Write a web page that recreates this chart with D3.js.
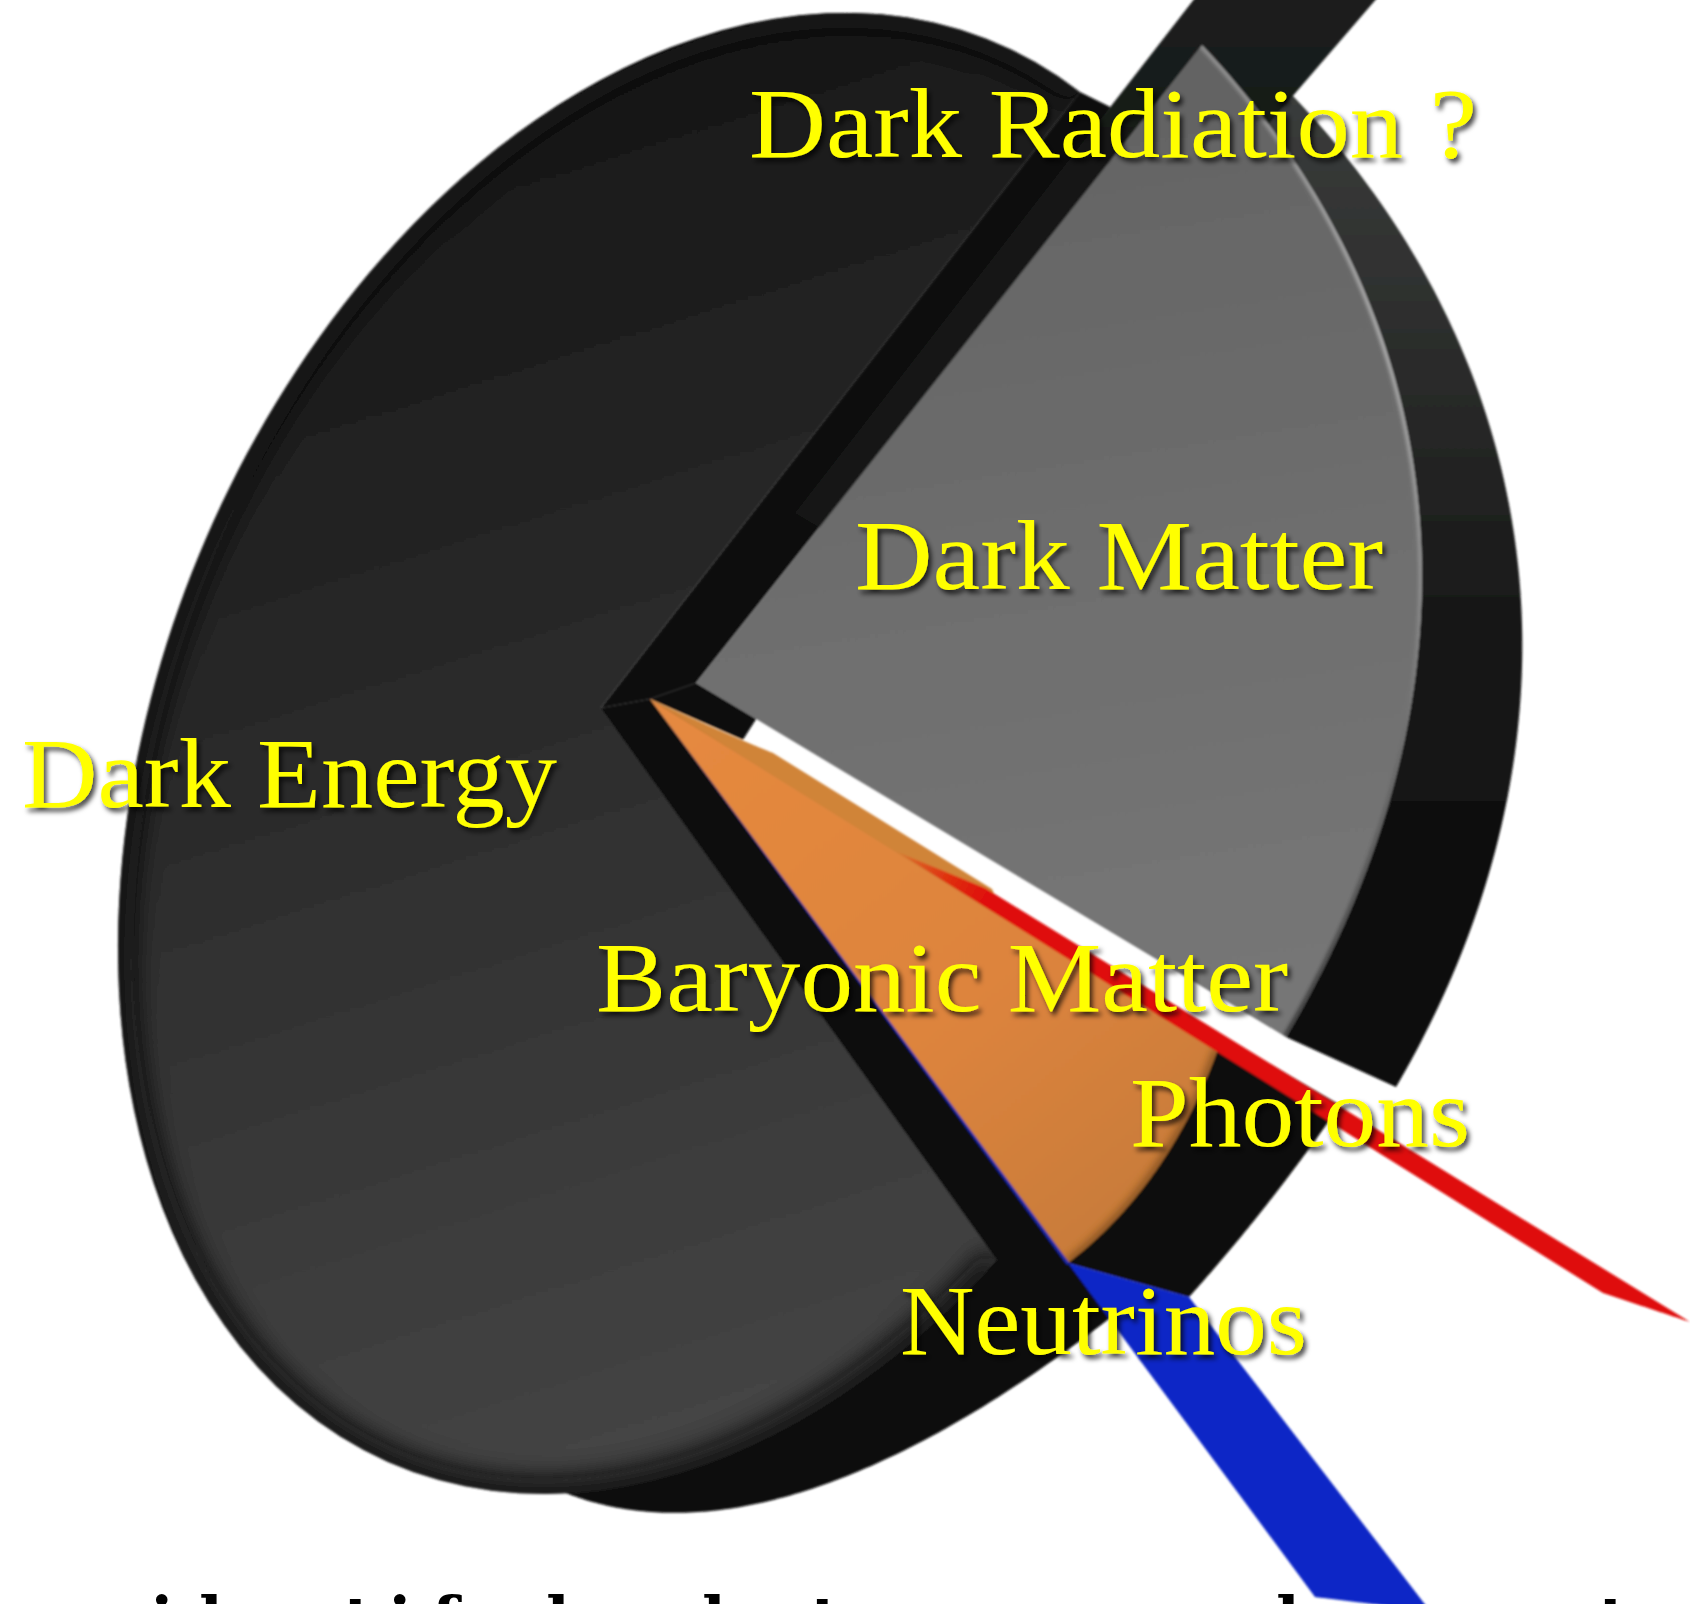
<!DOCTYPE html>
<html><head><meta charset="utf-8">
<script src="https://cdn.jsdelivr.net/npm/d3@7"></script>
<style>html,body{margin:0;padding:0;background:#fff;overflow:hidden}svg{display:block}</style>
</head><body><svg id="chart" width="1690" height="1604"></svg>
<script>
// Shares of the cosmic energy budget, clockwise from the top of the pie.
const sliceNames = ["Dark Matter", "Baryonic Matter", "Photons", "Neutrinos", "Dark Energy", "Dark Radiation ?"];
const sliceShares = [26.8, 4.9, 0.2, 0.3, 67.6, 0.2];

const captionGlyphs = ["i", "d", "t", "i", "f", "d", "d", "t", "d", "t"];
const captionStems = [162, 215, 360, 400, 445, 562, 718, 827, 1292, 1615];

const svg = d3.select("#chart");
const defs = svg.append("defs");
const slices = d3.pie().sort(null).value(d => d)(sliceShares);
const slice = name => slices[sliceNames.indexOf(name)];

function solveLinear(m) {
  const n = m.length;
  for (let c = 0; c < n; c++) {
    let p = c;
    for (let i = c + 1; i < n; i++) if (Math.abs(m[i][c]) > Math.abs(m[p][c])) p = i;
    [m[c], m[p]] = [m[p], m[c]];
    for (let i = 0; i < n; i++) {
      if (i === c) continue;
      const f = m[i][c] / m[c][c];
      for (let j = c; j <= n; j++) m[i][j] -= f * m[c][j];
    }
  }
  return m.map((row, i) => row[n] / row[i]);
}

// Perspective map from pie polar coordinates to the page, solved from 3 or 4 anchors.
function plane(anchors) {
  const src = anchors.map(([r, a]) => [r * Math.sin(a), -r * Math.cos(a)]);
  const dst = anchors.map(a => [a[2], a[3]]);
  if (src.length === 3) {
    src.push([src[1][0] + src[2][0] - src[0][0], src[1][1] + src[2][1] - src[0][1]]);
    dst.push([dst[1][0] + dst[2][0] - dst[0][0], dst[1][1] + dst[2][1] - dst[0][1]]);
  }
  const m = [];
  src.forEach(([x, y], i) => {
    const [X, Y] = dst[i];
    m.push([x, y, 1, 0, 0, 0, -x * X, -y * X, X]);
    m.push([0, 0, 0, x, y, 1, -x * Y, -y * Y, Y]);
  });
  const h = solveLinear(m);
  return (r, a) => {
    const x = r * Math.sin(a), y = -r * Math.cos(a);
    const w = h[6] * x + h[7] * y + 1;
    return [(h[0] * x + h[1] * y + h[2]) / w, (h[3] * x + h[4] * y + h[5]) / w];
  };
}

// Off-centre wedge: the rim follows the ellipse through five page points and the
// pie angle runs linearly along that rim, while spokes meet at the given apex.
function ellipseFan(apex, a0, a1, start, end, vias) {
  const K = 1000, X0 = 600, Y0 = 760;
  const nx = x => (x - X0) / K, ny = y => (y - Y0) / K;
  const pts = [start, end, ...vias].map(([x, y]) => [nx(x), ny(y)]);
  const [A, B, C, D, E] = solveLinear(pts.map(([x, y]) => [x * x, x * y, y * y, x, y, 1]));
  const [cx, cy] = solveLinear([[2 * A, B, -D], [B, 2 * C, -E]]);
  const F = A * cx * cx + B * cx * cy + C * cy * cy + D * cx + E * cy - 1;
  const phi = ([x, y]) => Math.atan2(y - cy, x - cx);
  const p0 = phi(pts[0]);
  let p1 = phi(pts[1]);
  while (p1 < p0) p1 += 2 * Math.PI;
  return (r, a) => {
    const t = p0 + (a - a0) / (a1 - a0) * (p1 - p0);
    const u = Math.cos(t), v = Math.sin(t);
    const rho = Math.sqrt(-F / (A * u * u + B * u * v + C * v * v));
    const rim = [(cx + rho * u) * K + X0, (cy + rho * v) * K + Y0];
    return [apex[0] + r * (rim[0] - apex[0]), apex[1] + r * (rim[1] - apex[1])];
  };
}

const trace = d3.line();
const arcPoints = (pl, a0, a1, r = 1) => d3.range(121).map(i => pl(r, a0 + (a1 - a0) * i / 120));
const closed = pts => trace(pts) + "Z";
const lerp = (p, q, t) => [p[0] + (q[0] - p[0]) * t, p[1] + (q[1] - p[1]) * t];

function gradient(id, x1, y1, x2, y2, stops) {
  const g = defs.append("linearGradient").attr("id", id).attr("gradientUnits", "userSpaceOnUse")
    .attr("x1", x1).attr("y1", y1).attr("x2", x2).attr("y2", y2);
  stops.forEach(([o, c]) => g.append("stop").attr("offset", o).attr("stop-color", c));
  return `url(#${id})`;
}
function blur(id, sd) {
  defs.append("filter").attr("id", id).attr("x", "-20%").attr("y", "-20%").attr("width", "140%").attr("height", "140%")
    .append("feGaussianBlur").attr("stdDeviation", sd);
  return `url(#${id})`;
}
const soft = blur("soft", 0.8);
const rimBlur = blur("rimBlur", 13);
const rimThin = blur("rimThin", 1.6);
const shadow = defs.append("filter").attr("id", "labelShadow").attr("x", "-10%").attr("y", "-30%").attr("width", "120%").attr("height", "170%");
shadow.append("feDropShadow").attr("dx", 3).attr("dy", 4).attr("stdDeviation", 2.6).attr("flood-color", "#000").attr("flood-opacity", 0.72);

const DM = slice("Dark Matter"), BM = slice("Baryonic Matter"), PH = slice("Photons"),
      NU = slice("Neutrinos"), DE = slice("Dark Energy"), DR = slice("Dark Radiation ?");
const mid = s => (s.startAngle + s.endAngle) / 2;

// Calibration of each level of the extruded pie.
const faceDE = ellipseFan([601, 708], DE.startAngle, DE.endAngle, [997, 1260], [1080, 92], [[857, 13], [118, 938], [400, 1467]]);
const faceDM = plane([[0, 0, 696, 683], [1, DM.startAngle, 1202, 45], [1, DM.endAngle, 1286, 1037], [1, mid(DM), 1420, 525]]);
const rearDM = plane([[0, 0, 790, 740], [1, DM.startAngle, 1262, 65], [1, DM.endAngle, 1396, 1087], [1, mid(DM), 1518, 565]]);
const faceBM = plane([[0, 0, 650, 699], [1, BM.startAngle, 1218, 1049], [1, BM.endAngle, 1068, 1263], [1, mid(BM), 1155, 1172]]);
const rearBM = plane([[0, 0, 650, 699], [1, BM.startAngle, 1340, 1105], [1, mid(BM), 1268, 1203], [1, NU.startAngle, 1189, 1297]]);
const rearDE = plane([[0, 0, 650, 699], [1, DE.startAngle, 1110, 1318], [1, DE.startAngle + 0.4, 808, 1490], [1, DE.startAngle + 0.8, 619, 1508]]);
const INNER = 0.3;
const quadPlane = (s, q) => plane([
  [INNER, s.startAngle, ...q[0]], [INNER, s.endAngle, ...q[1]],
  [1, s.endAngle, ...q[2]], [1, s.startAngle, ...q[3]]]);
const ribbonPH = quadPlane(PH, [[985, 888], [897, 852], [1603, 1293], [1690, 1322]]);
const ribbonNU = quadPlane(NU, [[1189, 1297], [1068, 1263], [1315, 1597], [1430, 1611]]);
const ribbonDR = quadPlane(DR, [[795, 513], [887, 568], [1427, -60], [1240, -60]]);
const foldBM = quadPlane(BM, [[773, 753], [650, 699], [1000, 917], [992, 889]]);
const hairNU = plane([[0, 0, 650, 699], [1, NU.startAngle, 1069.5, 1263], [1, NU.endAngle, 1067, 1265]]);

const sector = (pl, s, a0 = s.startAngle, a1 = s.endAngle) => [pl(0, a0), ...arcPoints(pl, a0, a1)];
const ring = (pl, s) => [...arcPoints(pl, s.startAngle, s.endAngle, INNER), ...arcPoints(pl, s.endAngle, s.startAngle, 1)];

const marks = svg.append("g").attr("filter", soft);
const draw = (pts, fill) => marks.append("path").attr("d", closed(pts)).attr("fill", fill);
const apexDE = faceDE(0, 0), apexDM = faceDM(0, 0), apexBM = faceBM(0, 0);

// Black rear plates under the baryons and the lower rim of dark energy.
draw([...sector(rearBM, BM, BM.startAngle, NU.startAngle), ribbonNU(INNER, NU.endAngle)], "#0b0a08");
draw([apexDE, apexBM, ...arcPoints(rearDE, DE.startAngle, DE.startAngle + 1.15)], "#0a0a0a");

// Wall exposed by the raised dark-energy wedge; it stops on the radiation ribbon's left edge.
const wallTop = lerp(ribbonDR(INNER, DR.startAngle), ribbonDR(1, DR.startAngle), 0.7086);
draw([apexDE, faceDE(1, DE.endAngle), wallTop, faceDM(0.3, DM.startAngle), apexDM, apexBM], "#0a0a0a");

// Outer band of the dark-matter slice, from its face back to the rear arc.
draw([...arcPoints(faceDM, DM.startAngle, DM.endAngle), ...arcPoints(rearDM, DM.endAngle, DM.startAngle)],
  gradient("bandDM", 0, 100, 0, 1090, [[0, "#3a3c3b"], [0.28, "#2a2b2a"], [0.55, "#161616"], [1, "#0a0a0a"]]));

// Dark radiation, a long ribbon leaving the top of the page.
draw(ring(ribbonDR, DR), gradient("ribbonDRfill", 0, 0, 0, 520, [[0, "#1b1d1c"], [0.3, "#171918"], [1, "#131514"]]));

// Dark-matter face with its pale rim.
const dmFace = sector(faceDM, DM);
draw(dmFace, gradient("faceDMfill", 900, 60, 1050, 1000, [[0, "#626262"], [0.55, "#6e6e6e"], [1, "#767676"]]));
defs.append("clipPath").attr("id", "clipDM").append("path").attr("d", closed(dmFace));
marks.append("g").attr("clip-path", "url(#clipDM)").append("path")
  .attr("d", trace(arcPoints(faceDM, DM.startAngle, DM.endAngle))).attr("fill", "none").attr("stroke-width", 7)
  .attr("filter", rimThin)
  .attr("stroke", gradient("rimDM", 0, 45, 0, 1037, [[0, "#8e8e8e"], [0.3, "#a8a8a8"], [0.55, "#8a8a8a"], [0.82, "#585858"], [1, "#3c3c3c"]]));

// Short black step at the inner end of the gap below dark matter.
draw([apexDM, lerp(apexDM, faceDM(1, DM.endAngle), 0.102), lerp(apexBM, foldBM(INNER, BM.startAngle), 0.756), apexBM], "#0a0a0a");

// Baryonic matter.
const bmFace = sector(faceBM, BM);
draw(bmFace, gradient("faceBMfill", 700, 720, 1100, 1230, [[0, "#e5893f"], [0.6, "#dd843d"], [1, "#c97c3a"]]));
defs.append("clipPath").attr("id", "clipBM").append("path").attr("d", closed(bmFace));
marks.append("g").attr("clip-path", "url(#clipBM)").append("path")
  .attr("d", trace(arcPoints(faceBM, BM.startAngle, BM.endAngle))).attr("fill", "none").attr("stroke", "#7a4c1e")
  .attr("stroke-width", 8).attr("filter", blur("rimBM", 4));
draw(ring(foldBM, BM), "#d08439");

// Neutrinos: hairline face plus the long ribbon.
draw(sector(hairNU, NU), "#1b2aa8");
draw(ring(ribbonNU, NU), "#0b25c6");

// Photons, fading in where the ribbon emerges from the baryon slice.
draw(ring(ribbonPH, PH), gradient("ribbonPHfill", 897, 852, 985, 905, [[0, "#d9772f"], [0.55, "#e0300f"], [1, "#df0d0a"]]));

// Dark-energy face with a darkened rim.
const deFace = sector(faceDE, DE);
draw(deFace, gradient("faceDEfill", 560, 60, 960, 1330, [[0, "#161616"], [0.35, "#262626"], [0.7, "#373737"], [1, "#444444"]]));
defs.append("clipPath").attr("id", "clipDE").append("path").attr("d", closed(deFace));
marks.append("g").attr("clip-path", "url(#clipDE)").append("path")
  .attr("d", trace(arcPoints(faceDE, DE.startAngle, DE.endAngle))).attr("fill", "none").attr("stroke", "#0a0a0a")
  .attr("stroke-width", 30).attr("filter", rimBlur);

// Slice labels.
const labelRows = [
  { text: "Dark Radiation ?", x: 749, end: 1477, y: 157 },
  { text: "Dark Matter", x: 855, end: 1383, y: 589 },
  { text: "Dark Energy", x: 22, end: 557, y: 807 },
  { text: "Baryonic Matter", x: 596, end: 1288, y: 1011 },
  { text: "Photons", x: 1130, end: 1470, y: 1146 },
  { text: "Neutrinos", x: 900, end: 1307, y: 1354 }
];
svg.append("g").attr("font-family", "'Liberation Serif', serif").attr("font-size", 100).attr("fill", "#ffff00")
  .attr("filter", "url(#labelShadow)")
  .selectAll("text").data(labelRows).join("text")
  .attr("x", d => d.x).attr("y", d => d.y)
  .attr("textLength", d => d.end - d.x).attr("lengthAdjust", "spacingAndGlyphs")
  .text(d => d.text);

// Caption line, almost entirely below the bottom edge of the page.
const stemOffset = g => (g === "d" ? -14 : g === "t" ? -2 : 0);
svg.append("g").attr("font-family", "'DejaVu Serif', serif").attr("font-weight", 700).attr("font-size", 62).attr("fill", "#000")
  .attr("text-anchor", "middle")
  .selectAll("text").data(captionGlyphs).join("text")
  .attr("x", (g, i) => captionStems[i] + stemOffset(g)).attr("y", 1641)
  .text(g => g);
</script></body></html>
